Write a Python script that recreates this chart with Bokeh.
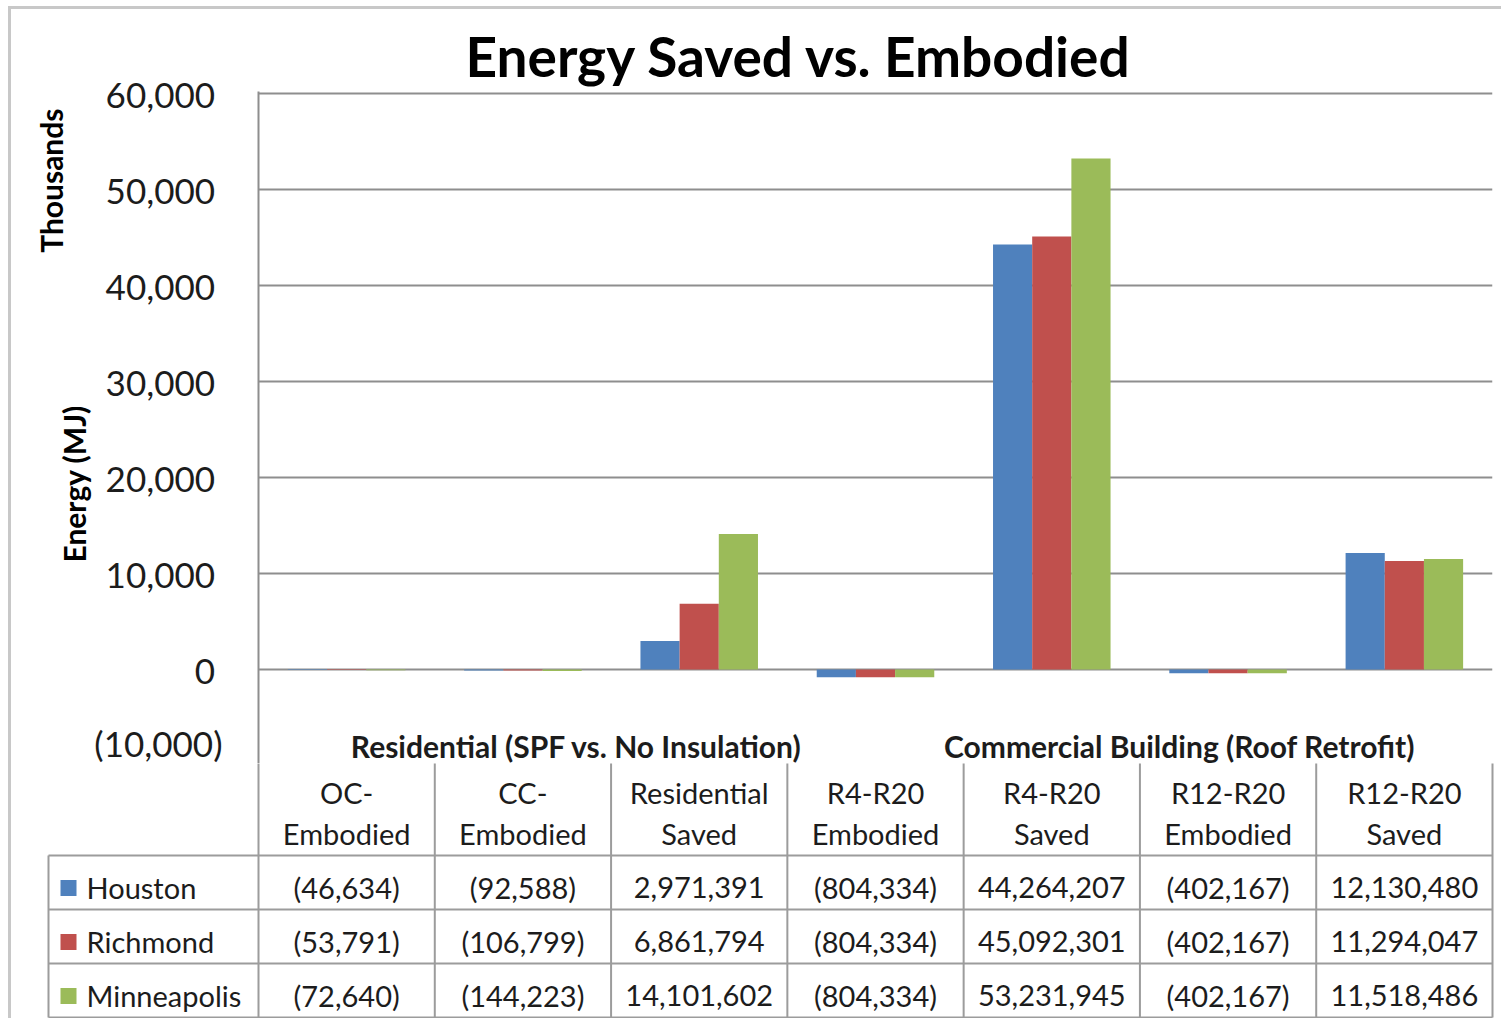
import numpy as np
from bokeh.plotting import figure
from bokeh.models import Range1d, FixedTicker, CustomJSTickFormatter, Label, ColumnDataSource, Title
from bokeh.embed import file_html
from bokeh.resources import INLINE
from bokeh.core.properties import value

# ---------------- data ----------------
cat_top = ["OC-", "CC-", "Residential", "R4-R20", "R4-R20", "R12-R20", "R12-R20"]
cat_bottom = ["Embodied", "Embodied", "Saved", "Embodied", "Saved", "Embodied", "Saved"]
series = ["Houston", "Richmond", "Minneapolis"]
houston = [-46634, -92588, 2971391, -804334, 44264207, -402167, 12130480]
richmond = [-53791, -106799, 6861794, -804334, 45092301, -402167, 11294047]
minneapolis = [-72640, -144223, 14101602, -804334, 53231945, -402167, 11518486]
groups = ["Residential (SPF vs. No Insulation)", "Commercial Building (Roof Retrofit)"]
y_ticks = [-10000000, 0, 10000000, 20000000, 30000000, 40000000, 50000000, 60000000]
title_text = "Energy Saved vs. Embodied"
unit_label = "Thousands"
axis_title = "Energy (MJ)"

colors = ["#4F81BD", "#C0504D", "#9BBB59"]
values = [houston, richmond, minneapolis]
FONT = "Lato"
TXT = "#1c1c1c"
GRID = "#8e8e8e"
TLINE = "#9c9c9c"
BORDER = "3px solid #c8c8c8"

# ---------------- layout geometry (pixels) ----------------
ORG_X, ORG_Y = 11, 9      # content origin (after margin + border)
FR_L, FR_R = 258, 1492    # chart frame left/right
GRID_T = 93               # pixel row of top gridline
FR_T = 91                 # frame top
PX10 = 96.0               # pixels per 10,000 thousand
ncat = len(cat_top)
cat_px = (FR_R - FR_L) / ncat
A_bottom = 766
y_max = y_ticks[-1]
y_top = y_max + (GRID_T - FR_T) / PX10 * 1e7
y_bot = y_max - (A_bottom - GRID_T) / PX10 * 1e7

def ax(px):
    return (px - FR_L) / cat_px

def ay(py):
    return y_max - (py - GRID_T) / PX10 * 1e7

# ---------------- chart figure ----------------
wA = 1493
pA = figure(width=wA, height=A_bottom - ORG_Y,
            x_range=Range1d(0, ncat), y_range=Range1d(y_bot, y_top),
            x_axis_type=None, output_backend="svg", toolbar_location=None,
            min_border_left=FR_L - ORG_X, min_border_right=wA - (FR_L - ORG_X) - (FR_R - FR_L),
            min_border_top=FR_T - ORG_Y, min_border_bottom=0,
            styles={"margin-left": "8px", "margin-top": "6px",
                    "border-left": BORDER, "border-top": BORDER})
pA.outline_line_color = None
pA.background_fill_color = "white"
pA.border_fill_color = "white"

pA.title.text = title_text
pA.title.text_font = FONT
pA.title.text_font_size = "55px"
pA.title.text_font_style = "bold"
pA.title.text_color = "black"
pA.title.align = "left"
pA.title.offset = 465 - FR_L
pA.title.standoff = 6

pA.add_layout(Title(text=axis_title, align="left", offset=766 - 562, text_font=FONT,
                    text_font_size="30px", text_font_style="bold", text_color="black",
                    standoff=0), "left")
pA.add_layout(Title(text=unit_label, align="right", offset=17, text_font=FONT,
                    text_font_size="30px", text_font_style="bold", text_color="black",
                    standoff=-30), "left")

x0 = np.arange(ncat) + 0.5
bw = 1.0 / 4.5
for i, (vals, col) in enumerate(zip(values, colors)):
    src = ColumnDataSource(dict(x=x0 + (i - 1) * bw, top=vals))
    pA.vbar(x="x", top="top", bottom=0, width=bw, source=src,
            fill_color=col, line_color=None)

pA.ygrid.ticker = FixedTicker(ticks=y_ticks)
pA.ygrid.grid_line_color = GRID
pA.ygrid.grid_line_width = 2
pA.yaxis.ticker = FixedTicker(ticks=y_ticks)
pA.yaxis.formatter = CustomJSTickFormatter(code=r"""
const t = Math.round(tick / 1000);
const s = Math.abs(t).toString().replace(/\B(?=(\d{3})+(?!\d))/g, ",");
if (t < 0) { return "(" + s + ")"; }
return s + "\u2008";
""")
pA.yaxis.major_label_text_font = FONT
pA.yaxis.major_label_text_font_size = "35px"
pA.yaxis.major_label_text_color = TXT
pA.yaxis.major_label_standoff = 30
pA.yaxis.axis_line_color = GRID
pA.yaxis.axis_line_width = 2
pA.yaxis.major_tick_line_color = None
pA.yaxis.minor_tick_line_color = None

for g, gx in zip(groups, [576, 1179]):
    pA.add_layout(Label(x=ax(gx), y=ay(745), text=g, text_font=FONT,
                        text_font_size="30px", text_font_style="bold", text_color=TXT,
                        text_align="center", text_baseline="middle"))

# ---------------- data table figure ----------------
row_px = 54.0
hdr_units = (858 - 764) / row_px
leg_left = ax(48)
B_top, B_bot = A_bottom, 1021
xB0 = ax(46)
xB1 = ax(1494)
yB1 = hdr_units - (B_top - 764) / row_px
yB0 = -len(series) - (B_bot - 1020) / row_px
wB = 1493
frameB_w = 1494 - 46
pB = figure(width=wB, height=B_bot - B_top,
            x_range=Range1d(xB0, xB1), y_range=Range1d(yB0, yB1),
            x_axis_type=None, y_axis_type=None, output_backend="svg",
            toolbar_location=None,
            min_border_left=46 - ORG_X, min_border_right=wB - (46 - ORG_X) - frameB_w,
            min_border_top=0, min_border_bottom=0,
            styles={"margin-left": "8px", "border-left": BORDER})
pB.outline_line_color = None
pB.background_fill_color = "white"
pB.border_fill_color = "white"

nser = len(series)
hy = [0.0] + [-(k + 1.0) for k in range(nser)]
pB.segment(x0=[leg_left] * len(hy), x1=[float(ncat)] * len(hy), y0=hy, y1=hy,
           line_color=TLINE, line_width=2)
vx = [float(k) for k in range(ncat + 1)]
pB.segment(x0=vx, x1=vx, y0=[hdr_units] * len(vx), y1=[-float(nser)] * len(vx),
           line_color=TLINE, line_width=2)
pB.segment(x0=[leg_left], x1=[leg_left], y0=[0.0], y1=[-float(nser)],
           line_color=TLINE, line_width=2)

pB.text(x=x0, y=[hdr_units - 31 / row_px] * ncat, text=cat_top,
        text_font=value(FONT), text_font_size="29px", text_color=TXT,
        text_align="center", text_baseline="middle")
pB.text(x=x0, y=[hdr_units - 72 / row_px] * ncat, text=cat_bottom,
        text_font=value(FONT), text_font_size="29px", text_color=TXT,
        text_align="center", text_baseline="middle")

def fmt(v):
    return f"({abs(v):,})" if v < 0 else f"{v:,}"

for i, (name, vals, col) in enumerate(zip(series, values, colors)):
    yc = -i - 0.6
    pB.text(x=x0, y=[yc] * ncat, text=[fmt(v) for v in vals],
            text_font=value(FONT), text_font_size="29px", text_color=TXT,
            text_align="center", text_baseline="middle")
    pB.rect(x=[ax(68)], y=[yc], width=16, height=16, width_units="screen",
            height_units="screen", fill_color=col, line_color=None)
    pB.text(x=[ax(86)], y=[yc], text=[name],
            text_font=value(FONT), text_font_size="29px", text_color=TXT,
            text_align="left", text_baseline="middle")

open("out.html", "w").write(file_html([pA, pB], INLINE))
